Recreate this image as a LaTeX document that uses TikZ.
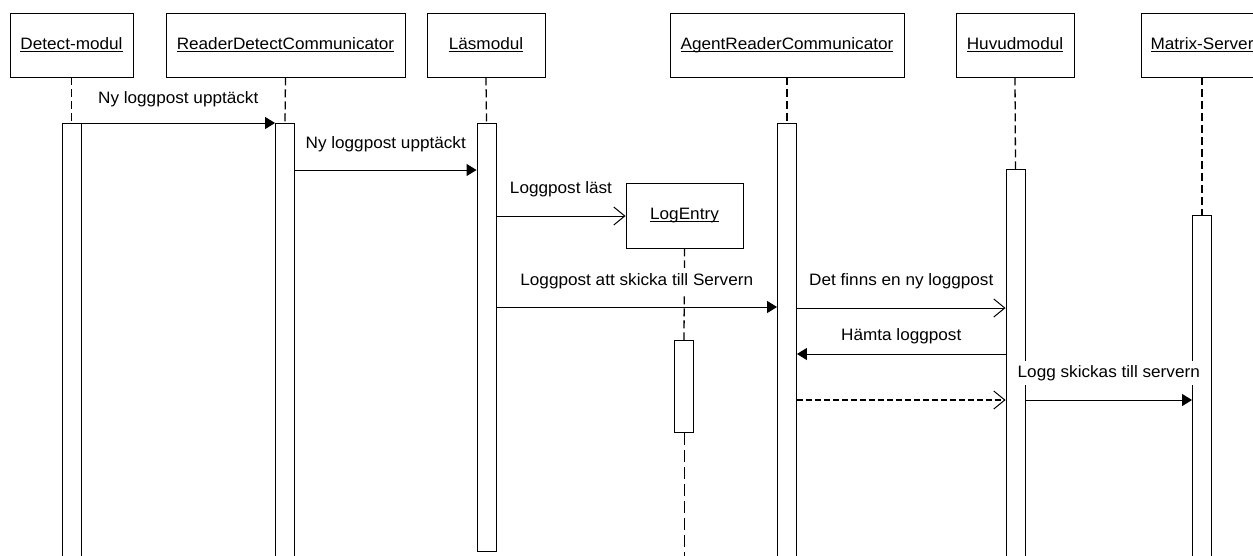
\documentclass[tikz,border=0pt]{standalone}
\usepackage{fontspec}
\setmainfont{Liberation Sans}[FakeStretch=1.04]
\usetikzlibrary{arrows.meta}
\newcommand\myul[1]{\setbox0\hbox{#1}\rlap{\vrule width\wd0 height -1.6pt depth 2.6pt}\box0}
\begin{document}
\begin{tikzpicture}[x=1pt,y=-1pt,
  font=\fontsize{16.5}{19}\selectfont,
  obj/.style={draw, line width=0.9pt, minimum height=64pt, inner sep=0pt},
  act/.style={draw, line width=0.9pt, fill=white, minimum width=19pt, inner sep=0pt, anchor=north},
  life/.style={line width=1.3pt, dash pattern=on 8pt off 4pt},
  msg/.style={line width=1pt, -{Triangle[length=10pt,width=12pt]}},
  omsg/.style={line width=1pt, -{Straight Barb[length=11pt,width=18pt,line width=1pt]}},
  rmsg/.style={line width=1.4pt, dash pattern=on 6pt off 3pt, -{Straight Barb[length=11pt,width=18pt,line width=1pt]}},
  lbl/.style={text height=11.5pt, text depth=3pt, fill=white, inner xsep=1pt, inner ysep=6pt}
]
\clip (0,0) rectangle (1253,555);
\fill[white] (0,0) rectangle (1253,555);

% objects
\node[obj, minimum width=123pt] (hDet) at (71.5,45) {\myul{Detect-modul}};
\node[obj, minimum width=239pt] (hRDC) at (285.5,45) {\myul{ReaderDetectCommunicator}};
\node[obj, minimum width=118pt] (hLas) at (486,45) {\myul{Läsmodul}};
\node[obj, minimum width=234pt] (hARC) at (787,45) {\myul{AgentReaderCommunicator}};
\node[obj, minimum width=118pt] (hHuv) at (1015,45) {\myul{Huvudmodul}};
\node[obj, minimum width=122pt] (hMat) at (1202,45) {\myul{Matrix-Server}};
\node[obj, minimum width=117pt, minimum height=65pt] (hLE) at (684.5,215.5) {\myul{LogEntry}};

% activation bars
\node[act, minimum height=440pt] (aDet) at (71.5,123) {};
\node[act, minimum height=440pt] (aRDC) at (285,123) {};
\node[act, minimum height=428pt] (aLas) at (486.5,123) {};
\node[act, minimum height=440pt] (aARC) at (787,123) {};
\node[act, minimum height=400pt] (aHuv) at (1015.5,169) {};
\node[act, minimum height=360pt] (aMat) at (1202,215) {};
\node[act, minimum height=92pt] (aLE) at (684,340) {};
\coordinate (leEnd) at (684,560);

% lifelines
\draw[life] (hDet.south) -- (aDet.north);
\draw[life] (hRDC.south) -- (aRDC.north);
\draw[life] (hLas.south) -- (aLas.north);
\draw[life] (hARC.south) -- (aARC.north);
\draw[life] (hHuv.south) -- (aHuv.north);
\draw[life] (hMat.south) -- (aMat.north);
\draw[life] (hLE.south) -- (aLE.north);
\draw[line width=1pt, dash pattern=on 12pt off 5pt] (aLE.south) -- (leEnd);

% messages
\draw[msg] (aDet.east |- 0,123) -- (aRDC.west |- 0,123)
  node[lbl, midway, yshift=24pt] {Ny loggpost upptäckt};
\draw[msg] (aRDC.east |- 0,170) -- (aLas.west |- 0,170)
  node[lbl, midway, yshift=26pt] {Ny loggpost upptäckt};
\draw[omsg] (aLas.east |- 0,216) -- (hLE.west |- 0,216)
  node[lbl, midway, yshift=27pt] {Loggpost läst};
\draw[msg] (aLas.east |- 0,307) -- (aARC.west |- 0,307)
  node[lbl, midway, yshift=26pt] {Loggpost att skicka till Servern};
\draw[omsg] (aARC.east |- 0,308) -- (aHuv.west |- 0,308)
  node[lbl, midway, yshift=27pt] {Det finns en ny loggpost};
\draw[msg] (aHuv.west |- 0,354) -- (aARC.east |- 0,354)
  node[lbl, midway, yshift=18pt, inner ysep=2pt] {Hämta loggpost};
\draw[rmsg] (aARC.east |- 0,400) -- (aHuv.west |- 0,400);
\draw[msg] (aHuv.east |- 0,400) -- (aMat.west |- 0,400)
  node[lbl, midway, yshift=27pt, inner xsep=2pt, inner ysep=5pt] {Logg skickas till servern};
\end{tikzpicture}
\end{document}
